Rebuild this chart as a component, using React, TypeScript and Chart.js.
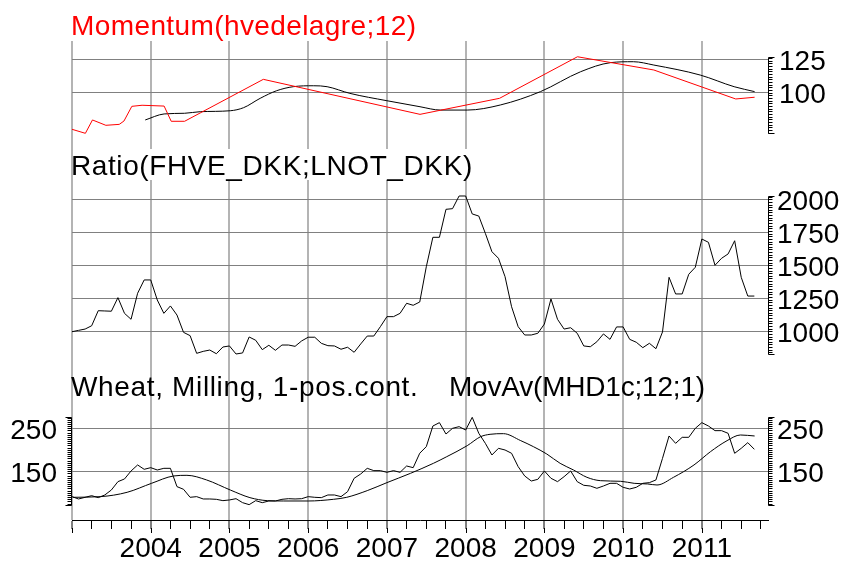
import React, { useEffect, useRef } from 'react';
import { Chart, registerables } from 'chart.js';

Chart.register(...registerables);

// ---------- data ----------
const X_MIN = 2003;
const X_MAX = 2011.84;

const TITLE_TOP = 'Momentum(hvedelagre;12)';
const TITLE_MID = 'Ratio(FHVE_DKK;LNOT_DKK)';
const TITLE_BOT_A = 'Wheat, Milling, 1-pos.cont.';
const TITLE_BOT_B = 'MovAv(MHD1c;12;1)';

const TOP_TICKS = [100, 125];
const MID_TICKS = [1000, 1250, 1500, 1750, 2000];
const BOT_TICKS = [150, 250];

// Momentum (red)
const momentumDates = [2003.0, 2003.17, 2003.26, 2003.43, 2003.6, 2003.66, 2003.76, 2003.89, 2004.17, 2004.26, 2004.43, 2005.43, 2007.42, 2008.43, 2009.42, 2010.39, 2011.43, 2011.67];
const momentumValues = [72.6, 69.6, 79.6, 75.6, 76.3, 78.8, 89.8, 90.6, 90.0, 78.6, 78.6, 110.0, 83.8, 95.8, 126.9, 117.0, 95.3, 96.6];

// Momentum smoothed (black)
const momentumAvgDates = [2003.93, 2004.17, 2004.43, 2004.63, 2005.01, 2005.18, 2005.39, 2005.6, 2005.81, 2006.07, 2006.24, 2006.53, 2007.0, 2007.42, 2007.68, 2008.02, 2008.44, 2008.95, 2009.46, 2009.84, 2010.13, 2010.39, 2010.98, 2011.41, 2011.67];
const momentumAvgValues = [79.6, 84.1, 84.6, 85.8, 86.5, 88.8, 95.8, 101.5, 104.5, 105.2, 104.5, 99.5, 94.0, 89.5, 87.0, 87.0, 90.8, 100.8, 115.7, 122.5, 123.2, 120.7, 113.2, 104.5, 100.8];

// Ratio, monthly Jan 2003 .. Sep 2011
const ratioValues = [
  997, 1007, 1017, 1042, 1156, 1154, 1152, 1255, 1136, 1091, 1288, 1389,
  1389, 1237, 1136, 1192, 1123, 992, 967, 833, 848, 858, 830, 881,
  889, 828, 836, 957, 932, 861, 894, 856, 896, 896, 886, 927,
  955, 955, 909, 891, 889, 864, 879, 841, 904, 964, 964, 1035,
  1111, 1111, 1136, 1212, 1197, 1222, 1489, 1712, 1712, 1924, 1929, 2025,
  2025, 1889, 1873, 1742, 1603, 1553, 1414, 1186, 1035, 972, 972, 985,
  1055, 1245, 1091, 1017, 1027, 985, 889, 883, 921, 980, 939, 1033,
  1033, 939, 917, 876, 909, 868, 995, 1409, 1283, 1283, 1432, 1485,
  1699, 1674, 1500, 1553, 1586, 1686, 1409, 1267, 1267,
];

// Wheat, monthly Jan 2003 .. Sep 2011
const wheatValues = [
  91.0, 85.6, 89.5, 93.3, 88.7, 94.9, 106.5, 125.9, 132.1, 150.7, 164.7, 154.6,
  158.4, 153.0, 156.9, 156.9, 114.3, 108.1, 89.5, 91.0, 85.6, 85.6, 84.8, 81.7,
  83.3, 86.3, 77.0, 72.4, 81.7, 77.0, 80.9, 80.9, 84.8, 86.3, 85.6, 86.3,
  91.0, 89.5, 88.7, 94.9, 94.9, 91.0, 102.6, 133.7, 143.7, 156.9, 151.5, 151.5,
  147.6, 151.5, 147.6, 162.3, 158.4, 192.0, 207.3, 255.3, 263.1, 236.7, 249.9, 253.8,
  246.0, 275.5, 238.3, 215.0, 187.9, 203.4, 199.5, 191.8, 160.8, 139.1, 127.4, 131.3,
  150.7, 133.7, 125.9, 137.5, 150.7, 125.9, 117.4, 115.8, 110.4, 115.8, 122.0, 122.0,
  112.7, 108.8, 112.7, 122.0, 123.6, 129.8, 180.0, 232.1, 215.0, 229.0, 229.0, 249.9,
  263.1, 255.3, 244.5, 244.5, 238.3, 191.8, 203.4, 216.6, 201.1,
];

// Wheat moving average
const wheatAvgDates = [2003.01, 2003.36, 2003.7, 2004.01, 2004.29, 2004.46, 2004.71, 2005.01, 2005.26, 2005.48, 2005.69, 2006.0, 2006.32, 2006.49, 2006.75, 2007.0, 2007.3, 2007.59, 2007.76, 2008.02, 2008.19, 2008.31, 2008.48, 2008.7, 2008.86, 2009.03, 2009.2, 2009.37, 2009.54, 2009.71, 2009.97, 2010.14, 2010.31, 2010.43, 2010.64, 2010.9, 2011.11, 2011.32, 2011.49, 2011.67];
const wheatAvgValues = [89.5, 91.0, 101.1, 122.0, 139.1, 140.6, 129.8, 106.5, 88.7, 81.7, 80.9, 80.9, 84.8, 89.5, 105.0, 123.6, 145.3, 168.5, 184.0, 209.6, 230.5, 236.0, 237.5, 221.2, 207.3, 190.2, 168.5, 153.0, 136.0, 128.2, 126.7, 122.0, 120.5, 118.1, 136.0, 164.7, 195.7, 221.2, 234.4, 232.1];

const monthDates = ratioValues.map((_, i) => 2003 + i / 12);

const pairs = (xs: number[], ys: number[]) => xs.map((x, i) => ({ x, y: ys[i] }));

const FONT = '"Liberation Sans", Arial, sans-serif';

function drawLadder(ctx: CanvasRenderingContext2D, scale: any, x: number, dir: number, lo: number, hi: number, step: number) {
  const yTop = scale.getPixelForValue(hi);
  const yBot = scale.getPixelForValue(lo);
  ctx.save();
  ctx.strokeStyle = '#000';
  ctx.lineWidth = 1;
  ctx.beginPath();
  ctx.moveTo(x + 0.5, Math.round(yTop) + 0.5);
  ctx.lineTo(x + 0.5, Math.round(yBot) + 0.5);
  for (let v = Math.ceil(lo / step) * step; v <= hi; v += step) {
    const y = Math.round(scale.getPixelForValue(v)) + 0.5;
    ctx.moveTo(x + 0.5, y);
    ctx.lineTo(x + 0.5 + dir * 4, y);
  }
  for (const v of [lo, hi]) {
    const y = Math.round(scale.getPixelForValue(v)) + 0.5;
    ctx.moveTo(x + 0.5, y);
    ctx.lineTo(x + 0.5 + dir * 6, y);
  }
  ctx.stroke();
  ctx.restore();
}

function drawLabels(ctx: CanvasRenderingContext2D, scale: any, values: number[], x: number, align: CanvasTextAlign) {
  ctx.save();
  ctx.fillStyle = '#000';
  ctx.font = `28px ${FONT}`;
  ctx.textAlign = align;
  ctx.textBaseline = 'middle';
  for (const v of values) {
    ctx.fillText(String(v), x, scale.getPixelForValue(v) + 3);
  }
  ctx.restore();
}

function drawTitle(ctx: CanvasRenderingContext2D, text: string, x: number, y: number, color: string, spacing: number) {
  ctx.save();
  ctx.font = `28px ${FONT}`;
  ctx.textBaseline = 'alphabetic';
  ctx.textAlign = 'left';
  ctx.fillStyle = color;
  (ctx as any).letterSpacing = `${spacing}px`;
  ctx.fillText(text, x, y);
  ctx.restore();
}

const panelPlugin = {
  id: 'panelDecor',
  beforeDatasetsDraw(chart: any) {
    const ctx = chart.ctx as CanvasRenderingContext2D;
    ctx.save();
    ctx.fillStyle = '#fff';
    ctx.fillRect(73, 149, 402, 31);
    ctx.restore();
  },
  afterDraw(chart: any) {
    const ctx = chart.ctx as CanvasRenderingContext2D;
    const { yTop, yMid, yBot, x: xs } = chart.scales;
    const area = chart.chartArea;

    // titles
    drawTitle(ctx, TITLE_TOP, 71, 35, '#ff0000', 0.4);
    drawTitle(ctx, TITLE_MID, 71, 175, '#000', 0.6);
    drawTitle(ctx, TITLE_BOT_A, 71, 396, '#000', 0.65);
    drawTitle(ctx, TITLE_BOT_B, 449, 396, '#000', -0.2);

    const right = Math.round(area.right);
    const left = Math.round(area.left);

    const topAll = momentumValues.concat(momentumAvgValues);
    drawLadder(ctx, yTop, right, 1, Math.min(...topAll), Math.max(...topAll), 2);
    drawLadder(ctx, yMid, right, 1, Math.min(...ratioValues), Math.max(...ratioValues), 20);
    const botAll = wheatValues.concat(wheatAvgValues);
    drawLadder(ctx, yBot, right, 1, Math.min(...botAll), Math.max(...botAll), 5);
    drawLadder(ctx, yBot, left - 1, -1, Math.min(...botAll), Math.max(...botAll), 5);

    drawLabels(ctx, yTop, TOP_TICKS, right + 11, 'left');
    drawLabels(ctx, yMid, MID_TICKS, right + 9, 'left');
    drawLabels(ctx, yBot, BOT_TICKS, right + 9, 'left');
    drawLabels(ctx, yBot, BOT_TICKS, left - 15, 'right');

    // longer year ticks
    ctx.save();
    ctx.strokeStyle = '#000';
    ctx.lineWidth = 1;
    ctx.beginPath();
    for (let yr = Math.ceil(X_MIN); yr <= X_MAX; yr++) {
      const px = Math.round(xs.getPixelForValue(yr)) + 0.5;
      ctx.moveTo(px, area.bottom + 8);
      ctx.lineTo(px, area.bottom + 13);
    }
    ctx.stroke();
    ctx.restore();
  },
};

const isYear = (v: number) => Math.abs(v - Math.round(v)) < 1e-6;

export default function App() {
  const ref = useRef<HTMLCanvasElement>(null);

  useEffect(() => {
    if (!ref.current) return;
    const yAxis = (min: number, max: number, ticks: number[]) => ({
      type: 'linear' as const,
      position: 'right' as const,
      min,
      max,
      afterBuildTicks: (s: any) => {
        s.ticks = ticks.map((value) => ({ value }));
      },
      afterFit: (s: any) => {
        s.width = 0;
      },
      ticks: { display: false },
      grid: { color: '#808080', lineWidth: 1, drawTicks: false },
      border: { display: false },
    });

    const chart = new Chart(ref.current, {
      type: 'line',
      data: {
        datasets: [
          {
            data: pairs(momentumDates, momentumValues),
            yAxisID: 'yTop',
            borderColor: '#ff0000',
            borderWidth: 1,
            pointRadius: 0,
            tension: 0,
          },
          {
            data: pairs(momentumAvgDates, momentumAvgValues),
            yAxisID: 'yTop',
            borderColor: '#000',
            borderWidth: 1,
            pointRadius: 0,
            cubicInterpolationMode: 'monotone',
          },
          {
            data: pairs(monthDates, ratioValues),
            yAxisID: 'yMid',
            borderColor: '#000',
            borderWidth: 1,
            pointRadius: 0,
            tension: 0,
          },
          {
            data: pairs(monthDates, wheatValues),
            yAxisID: 'yBot',
            borderColor: '#000',
            borderWidth: 1,
            pointRadius: 0,
            tension: 0,
          },
          {
            data: pairs(wheatAvgDates, wheatAvgValues),
            yAxisID: 'yBot',
            borderColor: '#000',
            borderWidth: 1,
            pointRadius: 0,
            cubicInterpolationMode: 'monotone',
          },
        ],
      },
      options: {
        animation: false,
        responsive: false,
        devicePixelRatio: 1,
        layout: { padding: { left: 72, right: 78, top: 41, bottom: 0 } },
        plugins: { legend: { display: false }, tooltip: { enabled: false } },
        scales: {
          x: {
            type: 'linear',
            min: X_MIN,
            max: X_MAX,
            afterBuildTicks: (s: any) => {
              const t = [];
              for (let q = 0; X_MIN + q * 0.25 <= X_MAX; q++) t.push({ value: X_MIN + q * 0.25 });
              s.ticks = t;
            },
            afterFit: (s: any) => {
              s.height = 45;
            },
            ticks: {
              autoSkip: false,
              maxRotation: 0,
              color: '#000',
              padding: 3,
              font: { size: 28, family: FONT },
              callback: (v: any) => (isYear(Number(v)) && Number(v) > X_MIN ? String(Math.round(Number(v))) : ''),
            },
            grid: {
              color: (c: any) => (c.tick && isYear(c.tick.value) ? '#b4b4b4' : 'rgba(0,0,0,0)'),
              lineWidth: (c: any) => (c.tick && isYear(c.tick.value) ? 2 : 1),
              tickColor: '#000',
              tickWidth: 1,
              tickLength: 9,
            },
            border: { display: true, color: '#000', width: 1 },
          },
          yTop: yAxis(-219.83, 138.7, TOP_TICKS),
          yMid: yAxis(-429.6, 3199.2, MID_TICKS),
          yBot: yAxis(36.7, 1150.7, BOT_TICKS),
        },
      } as any,
      plugins: [panelPlugin],
    });
    return () => chart.destroy();
  }, []);

  return (
    <div style={{ position: 'absolute', left: 0, top: 0, width: 846, height: 565, background: '#fff' }}>
      <canvas ref={ref} width={846} height={565} style={{ display: 'block', width: 846, height: 565 }} />
    </div>
  );
}
